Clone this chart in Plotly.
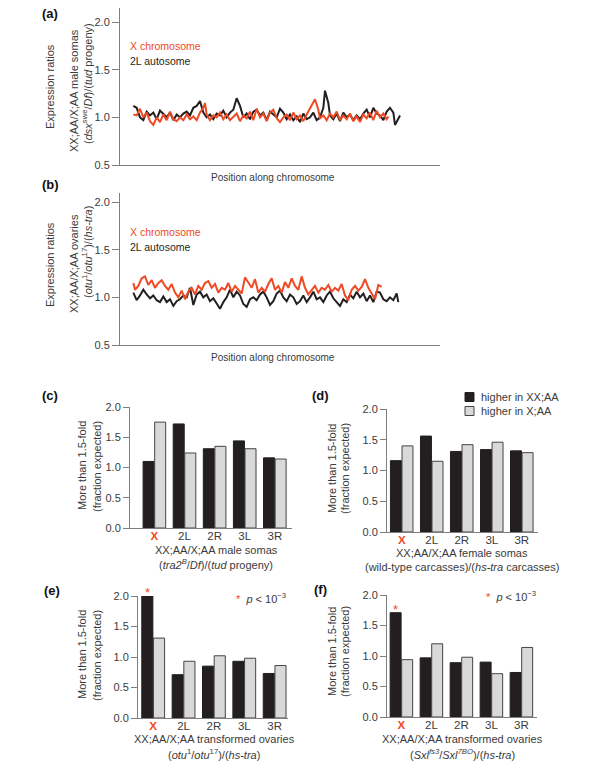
import plotly.graph_objects as go

RED = "#ee4a24"
BLACK = "#231f20"
GREY = "#d9d9db"
AXIS = "#7f7f7f"
TXT = "#3a3a3a"
FONT = "Liberation Sans, Arial, sans-serif"

# (a) XX;AA/X;AA male somas, ratios along the chromosome (arbitrary position units)
pos_a_x = [400, 410, 420, 430, 440, 450, 460, 470, 480, 490, 500, 510, 520, 530, 540, 550, 560, 570,
           580, 590, 600, 610, 615, 620, 630, 640, 650, 660, 670, 680, 690, 700, 710, 720, 730, 740,
           750, 760, 770, 780, 790, 800, 810, 820, 830, 840, 850, 860, 870, 880, 890, 900, 910, 920,
           930, 940, 945, 955, 960, 970, 980, 990, 1000, 1010, 1020, 1030, 1040, 1050, 1060, 1070,
           1080, 1090, 1100, 1110, 1120, 1130, 1140, 1150, 1160, 1165]
ratio_a_x = [1.03, 1.02, 1.09, 1.00, 1.05, 0.96, 0.92, 1.00, 0.95, 1.03, 0.97, 1.06, 0.98, 0.96, 1.00,
             0.97, 1.03, 0.98, 1.01, 0.97, 1.05, 1.10, 1.15, 1.03, 0.97, 1.02, 1.00, 1.05, 0.98, 1.03,
             0.97, 1.01, 1.04, 0.96, 1.02, 0.99, 1.06, 0.97, 1.09, 1.00, 1.04, 0.96, 1.05, 1.08, 0.99,
             0.95, 1.00, 1.03, 0.97, 1.05, 0.98, 1.02, 0.96, 1.03, 1.09, 1.16, 1.19, 1.08, 0.99, 1.02,
             0.97, 1.04, 1.00, 1.06, 0.97, 1.02, 0.98, 1.04, 0.96, 1.01, 0.95, 1.03, 0.99, 1.05, 0.97,
             1.07, 1.00, 1.04, 0.98, 1.01]
pos_a_2l = [400, 410, 420, 430, 440, 450, 460, 470, 480, 490, 500, 510, 520, 530, 540, 550, 560, 570,
            580, 590, 600, 610, 620, 630, 640, 650, 660, 670, 680, 690, 700, 710, 720, 730, 740, 750,
            760, 770, 780, 790, 800, 810, 820, 830, 840, 850, 860, 870, 880, 890, 900, 910, 920, 930,
            940, 950, 960, 970, 975, 985, 990, 1000, 1010, 1020, 1030, 1040, 1050, 1060, 1070, 1080,
            1090, 1100, 1110, 1120, 1130, 1140, 1150, 1160, 1170, 1180, 1185, 1190, 1200]
ratio_a_2l = [1.12, 1.10, 1.00, 0.97, 1.06, 1.02, 1.05, 0.98, 1.07, 1.03, 1.00, 1.05, 0.97, 1.03, 1.00,
              1.04, 1.06, 1.02, 1.10, 1.12, 1.17, 1.05, 1.00, 1.03, 0.98, 1.04, 1.02, 1.07, 1.00, 1.05,
              1.08, 1.20, 1.12, 1.00, 1.04, 0.98, 1.06, 1.08, 1.02, 1.05, 0.97, 1.06, 1.03, 1.00, 1.09,
              1.05, 0.98, 1.03, 0.97, 1.01, 0.95, 1.04, 0.98, 1.00, 1.05, 0.97, 1.00, 1.10, 1.28, 1.15,
              1.02, 0.98, 1.04, 0.96, 1.05, 1.00, 1.03, 0.97, 1.02, 0.98, 1.04, 1.08, 1.00, 1.10, 1.04,
              1.02, 0.97, 1.06, 1.10, 1.05, 0.92, 0.95, 1.02]

# (b) XX;AA/X;AA ovaries
pos_b_x = [400, 405, 415, 425, 435, 445, 455, 465, 475, 485, 495, 505, 515, 525, 535, 545, 555, 565,
           575, 585, 595, 605, 615, 625, 635, 645, 655, 665, 675, 685, 695, 705, 715, 725, 735, 745,
           755, 765, 775, 785, 795, 805, 815, 825, 835, 845, 855, 865, 875, 885, 895, 905, 915, 925,
           935, 945, 955, 965, 975, 985, 995, 1005, 1015, 1025, 1035, 1045, 1055, 1065, 1075, 1085,
           1095, 1105, 1115, 1125, 1135, 1145]
ratio_b_x = [1.15, 1.08, 1.12, 1.20, 1.22, 1.13, 1.18, 1.10, 1.15, 1.18, 1.12, 1.08, 1.14, 1.05, 1.00,
             1.07, 0.98, 1.06, 1.10, 1.03, 1.12, 1.08, 1.15, 1.17, 1.10, 1.14, 1.05, 1.10, 1.08, 1.15,
             1.06, 1.12, 1.08, 1.04, 1.21, 1.15, 1.10, 1.19, 1.05, 1.10, 1.06, 1.14, 1.20, 1.08, 1.12,
             1.05, 1.16, 1.10, 1.20, 1.12, 1.08, 1.22, 1.10, 1.03, 1.07, 1.12, 1.05, 1.10, 1.08, 1.13,
             1.06, 1.10, 1.07, 1.14, 1.02, 0.97, 1.08, 1.12, 1.07, 1.11, 1.19, 1.10, 1.04, 0.98, 1.13,
             1.11]
pos_b_2l = [400, 410, 420, 430, 440, 450, 460, 470, 480, 490, 500, 510, 520, 530, 540, 550, 560, 570,
            580, 590, 600, 610, 620, 630, 640, 650, 660, 670, 680, 690, 700, 710, 720, 730, 740, 750,
            760, 770, 780, 790, 800, 810, 820, 830, 840, 850, 860, 870, 880, 890, 900, 910, 920, 930,
            940, 950, 960, 970, 980, 990, 1000, 1010, 1020, 1030, 1040, 1050, 1060, 1070, 1080, 1090,
            1100, 1110, 1120, 1130, 1140, 1150, 1160, 1170, 1180, 1190, 1195]
ratio_b_2l = [1.05, 0.97, 1.02, 1.08, 1.03, 0.99, 1.02, 0.97, 0.95, 1.01, 0.95, 0.98, 0.91, 0.96, 0.98,
              1.02, 1.00, 1.10, 0.92, 1.03, 1.06, 1.00, 1.03, 0.96, 0.99, 0.94, 0.88, 0.95, 1.00, 1.08,
              1.00, 1.06, 1.02, 0.93, 0.90, 0.98, 1.00, 0.97, 1.03, 1.06, 1.00, 0.92, 0.96, 1.04, 1.07,
              1.00, 0.96, 1.03, 1.00, 0.93, 0.96, 1.02, 0.95, 1.00, 1.06, 0.98, 1.00, 0.95, 1.02, 1.06,
              0.99, 0.95, 0.91, 0.98, 0.95, 1.03, 0.99, 1.06, 1.00, 1.04, 0.96, 1.02, 0.95, 1.06, 1.05,
              0.98, 0.96, 1.00, 0.97, 1.04, 0.95]

# (c)-(f) more than 1.5-fold, fraction of expected
arms = ["X", "2L", "2R", "3L", "3R"]
c_hi_xxaa = [1.10, 1.72, 1.31, 1.44, 1.16]
c_hi_xaa = [1.75, 1.24, 1.35, 1.31, 1.14]
d_hi_xxaa = [1.16, 1.56, 1.31, 1.34, 1.32]
d_hi_xaa = [1.40, 1.15, 1.42, 1.46, 1.29]
e_hi_xxaa = [2.00, 0.71, 0.85, 0.93, 0.73]
e_hi_xaa = [1.31, 0.93, 1.02, 0.98, 0.86]
f_hi_xxaa = [1.71, 0.97, 0.89, 0.90, 0.73]
f_hi_xaa = [0.94, 1.20, 0.98, 0.71, 1.14]

W, H = 600, 764


def px(x):
    return x / W


def py(y):
    return 1 - y / H


fig = go.Figure()

# line panels
for xs, ys, color in [(pos_a_2l, ratio_a_2l, BLACK), (pos_a_x, ratio_a_x, RED)]:
    fig.add_trace(go.Scatter(x=xs, y=ys, mode="lines", line=dict(color=color, width=2),
                             xaxis="x", yaxis="y", showlegend=False))
for xs, ys, color in [(pos_b_2l, ratio_b_2l, BLACK), (pos_b_x, ratio_b_x, RED)]:
    fig.add_trace(go.Scatter(x=xs, y=ys, mode="lines", line=dict(color=color, width=2),
                             xaxis="x2", yaxis="y2", showlegend=False))

# bar panels
bar_sets = [(c_hi_xxaa, c_hi_xaa, "3"), (d_hi_xxaa, d_hi_xaa, "4"),
            (e_hi_xxaa, e_hi_xaa, "5"), (f_hi_xxaa, f_hi_xaa, "6")]
for hi_xx, hi_x, k in bar_sets:
    fig.add_trace(go.Bar(x=arms, y=hi_xx, marker=dict(color=BLACK, line=dict(color=BLACK, width=1)),
                         xaxis="x" + k, yaxis="y" + k, showlegend=False))
    fig.add_trace(go.Bar(x=arms, y=hi_x, marker=dict(color=GREY, line=dict(color="#444444", width=1)),
                         xaxis="x" + k, yaxis="y" + k, showlegend=False))

tickfont = dict(family=FONT, size=11, color=TXT)
line_y = dict(showline=True, linecolor=AXIS, linewidth=1, ticks="outside", ticklen=7,
              tickcolor=AXIS, tickvals=[0.5, 1.0, 1.5, 2.0], tickformat=".1f", automargin=False,
              tickfont=tickfont, showgrid=False, zeroline=False)
line_x = dict(showline=True, linecolor=AXIS, linewidth=1, showticklabels=False, ticks="",
              showgrid=False, zeroline=False, range=[360, 1320], automargin=False)
bar_y = dict(showline=True, linecolor=AXIS, linewidth=1, ticks="outside", ticklen=6,
             tickcolor=AXIS, tickvals=[0, 0.5, 1.0, 1.5, 2.0], tickformat=".1f", range=[0, 2.0],
             tickfont=tickfont, showgrid=False, zeroline=False, automargin=False)
arm_text = ["<span style='color:%s'><b>X</b></span>" % RED] + arms[1:]
bar_x = dict(showline=True, linecolor=AXIS, linewidth=1, ticks="", type="category",
             tickvals=arms, ticktext=arm_text, tickfont=dict(family=FONT, size=11.5, color=TXT),
             ticklabelstandoff=-3, showgrid=False, zeroline=False, automargin=False)

fig.update_layout(
    template="none",
    width=W, height=H, margin=dict(l=0, r=0, t=0, b=0, pad=0),
    paper_bgcolor="white", plot_bgcolor="white",
    barmode="group", bargap=0.23, bargroupgap=0.05,
    font=dict(family=FONT, size=11, color=TXT),
    hovermode=False,
    xaxis=dict(line_x, domain=[px(120), px(440)], anchor="y"),
    yaxis=dict(line_y, domain=[py(165), py(7.7)], range=[0.5, 2.15], anchor="x"),
    xaxis2=dict(line_x, domain=[px(120), px(440)], anchor="y2"),
    yaxis2=dict(line_y, domain=[py(345), py(192.5)], range=[0.5, 2.1], anchor="x2"),
    xaxis3=dict(bar_x, domain=[px(130), px(292)], range=[-0.81, 4.57], anchor="y3"),
    yaxis3=dict(bar_y, domain=[py(528), py(407)], anchor="x3"),
    xaxis4=dict(bar_x, domain=[px(387), px(538)], range=[-0.49, 4.54], anchor="y4"),
    yaxis4=dict(bar_y, domain=[py(532), py(409)], anchor="x4"),
    xaxis5=dict(bar_x, domain=[px(138), px(288)], range=[-0.5, 4.44], anchor="y5"),
    yaxis5=dict(bar_y, domain=[py(718), py(596)], anchor="x5"),
    xaxis6=dict(bar_x, domain=[px(387), px(537)], range=[-0.48, 4.52], anchor="y6"),
    yaxis6=dict(bar_y, domain=[py(717), py(595)], anchor="x6"),
)

ann = []


def note(text, x, y, size=11, color=TXT, angle=0, xanchor="center"):
    ann.append(dict(text=text, x=px(x), y=py(y), xref="paper", yref="paper", showarrow=False,
                    textangle=angle, xanchor=xanchor, yanchor="middle",
                    font=dict(family=FONT, size=size, color=color)))


# panel letters
for lab, x, y in [("(a)", 50, 13), ("(b)", 50, 184), ("(c)", 50, 395), ("(d)", 320, 395),
                  ("(e)", 52, 590), ("(f)", 320, 589)]:
    note("<b>%s</b>" % lab, x, y, size=13, color="#111111")

# line panels text
note("Expression ratios", 50, 87, angle=-90)
note("XX;AA/X;AA male somas", 74, 91, angle=-90)
note("(<i>dsx</i><sup>swe</sup>/<i>Df</i>)/(<i>tud</i> progeny)", 87, 84, angle=-90)
note("X chromosome", 128, 46, size=10.5, color=RED, xanchor="left")
note("2L autosome", 128, 61, size=10.5, color=BLACK, xanchor="left")
note("Position along chromosome", 273, 177, size=10)

note("Expression ratios", 50, 265, angle=-90)
note("XX;AA/X;AA ovaries", 74, 264, angle=-90)
note("(<i>otu</i><sup>1</sup>/<i>otu</i><sup>17</sup>)/(<i>hs-tra</i>)", 87, 252, angle=-90)
note("X chromosome", 128, 232, size=10.5, color=RED, xanchor="left")
note("2L autosome", 128, 247, size=10.5, color=BLACK, xanchor="left")
note("Position along chromosome", 273, 357, size=10)

# bar panels text
for x1, x2, yc in [(82, 97, 466), (332, 345, 469), (82, 97, 655), (332, 345, 652)]:
    note("More than 1.5-fold", x1, yc, angle=-90)
    note("(fraction expected)", x2, yc, angle=-90)

note("XX;AA/X;AA male somas", 216, 550)
note("(<i>tra2</i><sup><i>B</i></sup>/<i>Df</i>)/(<i>tud</i> progeny)", 216, 564)
note("XX;AA/X;AA female somas", 462, 553)
note("(wild-type carcasses)/(<i>hs-tra</i> carcasses)", 462, 567)
note("XX;AA/X;AA transformed ovaries", 214, 739)
note("(<i>otu</i><sup>1</sup>/<i>otu</i><sup>17</sup>)/(<i>hs-tra</i>)", 214, 754)
note("XX;AA/X;AA transformed ovaries", 462, 739)
note("(<i>Sxl</i><sup><i>fs3</i></sup>/<i>Sxl</i><sup><i>7BO</i></sup>)/(<i>hs-tra</i>)", 462, 754)

# legend of (d)
note("higher in XX;AA", 479, 397, xanchor="left")
note("higher in X;AA", 479, 411, xanchor="left")
fig.add_shape(type="rect", xref="paper", yref="paper", x0=px(465), x1=px(474), y0=py(401.5), y1=py(392.5),
              fillcolor=BLACK, line=dict(color=BLACK, width=1))
fig.add_shape(type="rect", xref="paper", yref="paper", x0=px(465), x1=px(474), y0=py(415.5), y1=py(406.5),
              fillcolor=GREY, line=dict(color="#444444", width=1))

# significance marks
note("<span style='color:%s'>*</span>  <i>p</i> &lt; 10<sup>−3</sup>" % RED, 234, 598, xanchor="left")
note("<span style='color:%s'>*</span>  <i>p</i> &lt; 10<sup>−3</sup>" % RED, 484, 596, xanchor="left")
for k, vals in [("5", e_hi_xxaa), ("6", f_hi_xxaa)]:
    ann.append(dict(text="*", x="X", y=vals[0], xref="x" + k, yref="y" + k, showarrow=False,
                    xshift=-6, yshift=-6, yanchor="bottom",
                    font=dict(family=FONT, size=13, color=RED)))

fig.update_layout(annotations=ann)
fig.write_html("out.html", config={"displayModeBar": False},
               post_script="document.body.style.margin='0px';")
